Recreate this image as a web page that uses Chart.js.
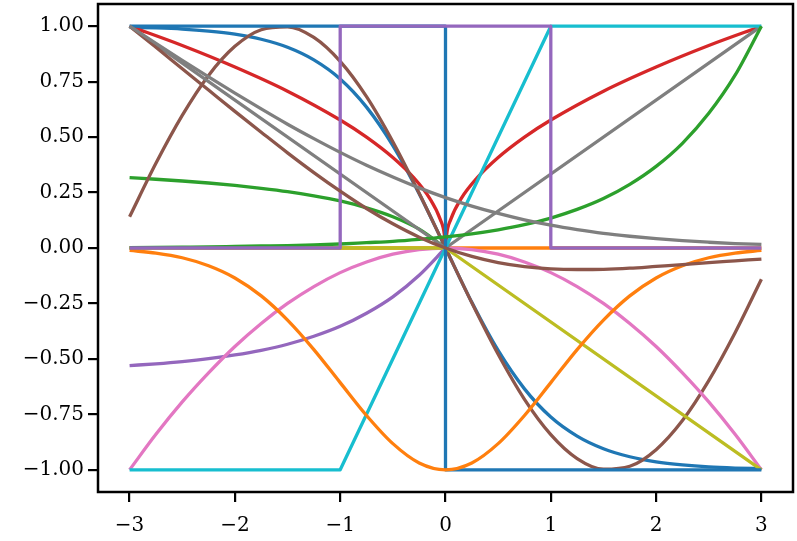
<!DOCTYPE html>
<html>
<head>
<meta charset="utf-8">
<script src="https://cdn.jsdelivr.net/npm/chart.js@4/dist/chart.umd.min.js"></script>
<style>
  html, body { margin: 0; padding: 0; background: #fff; }
  canvas { display: block; }
</style>
</head>
<body>
<canvas id="c" width="797" height="541"></canvas>
<script>
/* Many normalised curves on [-3, 3], matplotlib tab10 look. */

const TAB10 = ["#1f77b4", "#ff7f0e", "#2ca02c", "#d62728", "#9467bd",
               "#8c564b", "#e377c2", "#7f7f7f", "#bcbd22", "#17becf"];

// shared x grid for the smooth curves
const X = [-3, -2.75, -2.5, -2.25, -2, -1.75, -1.5, -1.25, -1, -0.75, -0.5, -0.25, 0,
           0.25, 0.5, 0.75, 1, 1.25, 1.5, 1.75, 2, 2.25, 2.5, 2.75, 3];
// left half only (curves that sit at zero for x > 0)
const XL = [-3, -2.75, -2.5, -2.25, -2, -1.75, -1.5, -1.25, -1, -0.75, -0.5, -0.25, 0];

const negTanh = [0.995, 0.992, 0.987, 0.978, 0.964, 0.941, 0.905, 0.848, 0.762, 0.635, 0.462, 0.245, 0,
                 -0.245, -0.462, -0.635, -0.762, -0.848, -0.905, -0.941, -0.964, -0.978, -0.987, -0.992, -0.995];
const zeroLine = [0, 0, 0, 0, 0, 0, 0, 0, 0, 0, 0, 0, 0, 0, 0, 0, 0, 0, 0, 0, 0, 0, 0, 0, 0];
const greenLeft = [0.317, 0.310, 0.302, 0.293, 0.282, 0.269, 0.254, 0.235, 0.212, 0.181, 0.141, 0.085, 0];
const purpleLeft = [-0.530, -0.522, -0.512, -0.499, -0.482, -0.461, -0.434, -0.398, -0.353, -0.294, -0.220, -0.123, 0];
const negSin = [0.141, 0.382, 0.598, 0.778, 0.909, 0.984, 0.997, 0.949, 0.841, 0.682, 0.479, 0.247, 0,
                -0.247, -0.479, -0.682, -0.841, -0.949, -0.997, -0.984, -0.909, -0.778, -0.598, -0.382, -0.141];
const pinkBowl = [-1, -0.840, -0.694, -0.563, -0.444, -0.340, -0.250, -0.174, -0.111, -0.063, -0.028, -0.007, 0,
                  -0.007, -0.028, -0.063, -0.111, -0.174, -0.250, -0.340, -0.444, -0.563, -0.694, -0.840, -1];
const negBell = [-0.011, -0.023, -0.044, -0.080, -0.135, -0.216, -0.325, -0.458, -0.607, -0.755, -0.882, -0.969, -1,
                 -0.969, -0.882, -0.755, -0.607, -0.458, -0.325, -0.216, -0.135, -0.080, -0.044, -0.023, -0.011];
const expRise = [0.002, 0.003, 0.004, 0.005, 0.007, 0.009, 0.011, 0.014, 0.018, 0.024, 0.030, 0.039, 0.050,
                 0.064, 0.082, 0.105, 0.135, 0.174, 0.223, 0.287, 0.368, 0.472, 0.607, 0.779, 1];
const brownDip = [1, 0.905, 0.808, 0.712, 0.616, 0.522, 0.429, 0.340, 0.256, 0.178, 0.109, 0.049, 0,
                  -0.038, -0.066, -0.084, -0.094, -0.097, -0.096, -0.091, -0.083, -0.075, -0.066, -0.058, -0.050];
const grayDecay = [1, 0.922, 0.846, 0.771, 0.698, 0.627, 0.558, 0.493, 0.431, 0.373, 0.320, 0.271, 0.227,
                   0.189, 0.156, 0.127, 0.103, 0.083, 0.066, 0.053, 0.042, 0.033, 0.026, 0.020, 0.016];

// red cusp needs its own, denser grid near zero
const redX = [-3, -2.5, -2, -1.5, -1, -0.75, -0.5, -0.3, -0.15, -0.05, -0.01, 0,
              0.01, 0.05, 0.15, 0.3, 0.5, 0.75, 1, 1.5, 2, 2.5, 3];
const redY = [1, 0.913, 0.816, 0.707, 0.577, 0.500, 0.408, 0.316, 0.224, 0.129, 0.058, 0,
              0.058, 0.129, 0.224, 0.316, 0.408, 0.500, 0.577, 0.707, 0.816, 0.913, 1];

// piecewise-linear curves (corner points)
const signX = [-3, 0, 0, 3],        signY = [1, 1, -1, -1];
const absX = [-3, 0, 3],            absY = [1, 0, 1];
const oliveX = [-3, 0, 3],          oliveY = [0, 0, -1];
const clipX = [-3, -1, 1, 3],       clipY = [-1, -1, 1, 1];
const rectX = [-3, -1, -1, 1, 1, 3], rectY = [0, 0, 1, 1, 0, 0];

const xTicks = [-3, -2, -1, 0, 1, 2, 3];
const xTickLabels = ["\u22123", "\u22122", "\u22121", "0", "1", "2", "3"];
const yTicks = [-1, -0.75, -0.5, -0.25, 0, 0.25, 0.5, 0.75, 1];
const yTickLabels = ["\u22121.00", "\u22120.75", "\u22120.50", "\u22120.25", "0.00", "0.25", "0.50", "0.75", "1.00"];

function pts(xs, ys) { return xs.map((x, i) => ({ x, y: ys[i] })); }

// drawing order follows the matplotlib colour cycle (later = on top)
const series = [
  { c: 0, d: pts(X, negTanh), smooth: true },
  { c: 1, d: pts(X, zeroLine) },
  { c: 2, d: pts(XL, greenLeft), smooth: true },
  { c: 3, d: pts(redX, redY), smooth: true },
  { c: 4, d: pts(XL, purpleLeft), smooth: true },
  { c: 5, d: pts(X, negSin), smooth: true },
  { c: 6, d: pts(X, pinkBowl), smooth: true },
  { c: 7, d: pts(absX, absY) },
  { c: 8, d: pts(oliveX, oliveY) },
  { c: 9, d: pts(clipX, clipY) },
  { c: 0, d: pts(signX, signY) },
  { c: 1, d: pts(X, negBell), smooth: true },
  { c: 2, d: pts(X, expRise), smooth: true },
  { c: 4, d: pts(rectX, rectY) },
  { c: 5, d: pts(X, brownDip), smooth: true },
  { c: 7, d: pts(X, grayDecay), smooth: true },
];

const datasets = series.map((s, i) => ({
  data: s.d,
  borderColor: TAB10[s.c],
  borderWidth: 3.3,
  pointRadius: 0,
  fill: false,
  cubicInterpolationMode: s.smooth ? "monotone" : "default",
  tension: 0,
  borderCapStyle: "butt",
  borderJoinStyle: "round",
  order: -i,
}));

const frame = {
  id: "frame",
  afterDraw(chart) {
    const { ctx, chartArea: a } = chart;
    ctx.save();
    ctx.strokeStyle = "#000";
    ctx.lineWidth = 2.5;
    ctx.strokeRect(a.left, a.top, a.right - a.left, a.bottom - a.top);
    ctx.restore();
  },
};

const tickFont = { family: "'DejaVu Serif', serif", size: 20 };

new Chart(document.getElementById("c"), {
  type: "line",
  data: { datasets },
  options: {
    responsive: false,
    animation: false,
    events: [],
    layout: { padding: { top: 4, right: 4, left: 0, bottom: 0 } },
    plugins: { legend: { display: false }, tooltip: { enabled: false } },
    scales: {
      x: {
        type: "linear", min: -3.3, max: 3.3,
        afterBuildTicks: (s) => { s.ticks = xTicks.map(v => ({ value: v })); },
        afterFit: (s) => { s.height = 49; s.paddingLeft = 0; s.paddingRight = 0; },
        grid: { drawOnChartArea: false, drawTicks: true, tickLength: 10, color: "#000", lineWidth: 2.2 },
        border: { display: false },
        ticks: {
          color: "#000", font: tickFont, padding: 12, maxRotation: 0,
          callback: (v) => xTickLabels[xTicks.indexOf(v)],
        },
      },
      y: {
        type: "linear", min: -1.1, max: 1.1,
        afterBuildTicks: (s) => { s.ticks = yTicks.map(v => ({ value: v })); },
        afterFit: (s) => { s.width = 98; s.paddingTop = 0; s.paddingBottom = 0; },
        grid: { drawOnChartArea: false, drawTicks: true, tickLength: 10, color: "#000", lineWidth: 2.2 },
        border: { display: false },
        ticks: {
          color: "#000", font: tickFont, padding: 4,
          callback: (v) => yTickLabels[yTicks.indexOf(v)],
        },
      },
    },
  },
  plugins: [frame],
});
</script>
</body>
</html>
